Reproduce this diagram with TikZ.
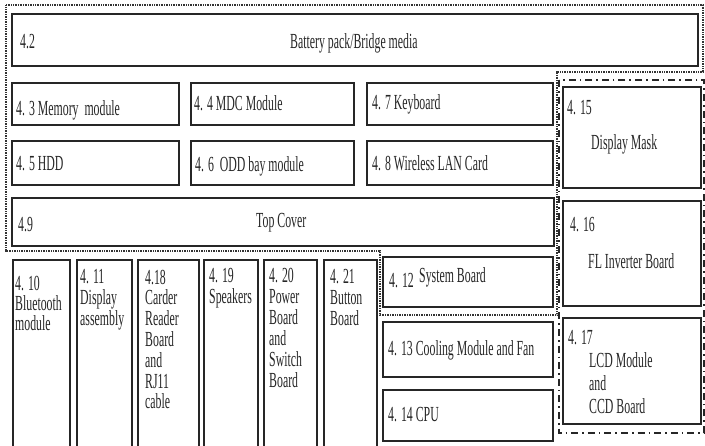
\documentclass[tikz,border=0pt]{standalone}
\usepackage{fontspec}
\setmainfont{Liberation Serif}[FakeStretch=0.55]
\usetikzlibrary{fit}
\begin{document}
\begin{tikzpicture}[x=1pt,y=-1pt,
  box/.style={draw=black!85, line width=1.6pt, inner sep=0pt},
  lbl/.style={inner sep=0pt, anchor=base west, font=\fontsize{21.5}{21}\selectfont, text=black!85},
  multi/.style={lbl, text width=80pt, align=flush left},
  dotline/.style={draw=black!80, line width=1.5pt, dash pattern=on 0.8pt off 0.9pt},
  dashdot/.style={draw=black!85, line width=1.6pt, dash pattern=on 7pt off 4pt on 1.6pt off 4pt}
]
\useasboundingbox (0,0) rectangle (705,445);
\clip (0,0) rectangle (705,445);
% boxes
\node[box, fit={(12,14) (698,66)}] (bat) {};
\node[box, fit={(12,83) (179,125)}] (mem) {};
\node[box, fit={(191,83) (354,125)}] (mdc) {};
\node[box, fit={(367,83) (553,125)}] (kbd) {};
\node[box, fit={(12,141) (179,185)}] (hdd) {};
\node[box, fit={(191,141) (354,185)}] (odd) {};
\node[box, fit={(367,141) (553,185)}] (wlan) {};
\node[box, fit={(12,198) (554,246)}] (top) {};
\node[box, fit={(13,260) (70,452)}] (bt) {};
\node[box, fit={(77,260) (132,452)}] (disp) {};
\node[box, fit={(138,260) (199,452)}] (card) {};
\node[box, fit={(204,260) (258,452)}] (spk) {};
\node[box, fit={(264,260) (317,452)}] (pwr) {};
\node[box, fit={(324,260) (377,452)}] (btn) {};
\node[box, fit={(383,257) (553,307)}] (sys) {};
\node[box, fit={(383,322) (553,377)}] (cool) {};
\node[box, fit={(383,390) (553,441)}] (cpu) {};
\node[box, fit={(563,87) (701,188)}] (mask) {};
\node[box, fit={(563,201) (701,306)}] (inv) {};
\node[box, fit={(563,318) (701,424)}] (lcd) {};
% group outlines
\draw[dotline] (6,5) -- (703,5) -- (703,72) -- (557,72) -- (557,315) -- (380,315) -- (380,251) -- (6,251) -- cycle;
\draw[dashdot] (559,80) rectangle (704,433);
% labels
\node[lbl] (t42) at (20,48) {4.2};
\node[lbl] (tbat) at (290,48) {Battery pack/Bridge media};
\node[lbl] (tmem) at (16,115) {4. 3 Memory\ \ module};
\node[lbl] (tmdc) at (194,110) {4. 4 MDC Module};
\node[lbl] (tkbd) at (372,109) {4. 7 Keyboard};
\node[lbl] (thdd) at (16,170) {4. 5 HDD};
\node[lbl] (todd) at (195,171) {4. 6\ \ ODD bay module};
\node[lbl] (twlan) at (372,170) {4. 8 Wireless LAN Card};
\node[lbl] (t49) at (18,231) {4.9};
\node[lbl] (ttop) at (256,227) {Top Cover};
\node[lbl] (t415) at (567,114) {4. 15};
\node[lbl] (tmask) at (591,149) {Display Mask};
\node[lbl] (t416) at (570,231) {4. 16};
\node[lbl] (tinv) at (588,268) {FL Inverter Board};
\node[lbl] (t417) at (568,344) {4. 17};
\node[multi, font=\fontsize{21.5}{23}\selectfont] (tlcd) at (589,367) {LCD Module\\and\\CCD Board};
\node[lbl] (t412) at (389,287) {4. 12};
\node[lbl] (tsysb) at (419,282) {System Board};
\node[lbl] (tcool) at (388,355) {4. 13 Cooling Module and Fan};
\node[lbl] (tcpu) at (388,421) {4. 14 CPU};
\node[multi, font=\fontsize{21.5}{20}\selectfont] (tbt) at (15,290) {4. 10\\Bluetooth\\module};
\node[multi] (tdisp) at (80,283) {4. 11\\Display\\assembly};
\node[multi, font=\fontsize{21.5}{20.8}\selectfont] (tcard) at (145,284) {4.18\\Carder\\Reader\\Board\\and\\RJ11\\cable};
\node[multi] (tspk) at (209,282) {4. 19\\Speakers};
\node[multi] (tpwr) at (269,282) {4. 20\\Power\\Board\\and\\Switch\\Board};
\node[multi] (tbtn) at (330,283) {4. 21\\Button\\Board};
\end{tikzpicture}
\end{document}
